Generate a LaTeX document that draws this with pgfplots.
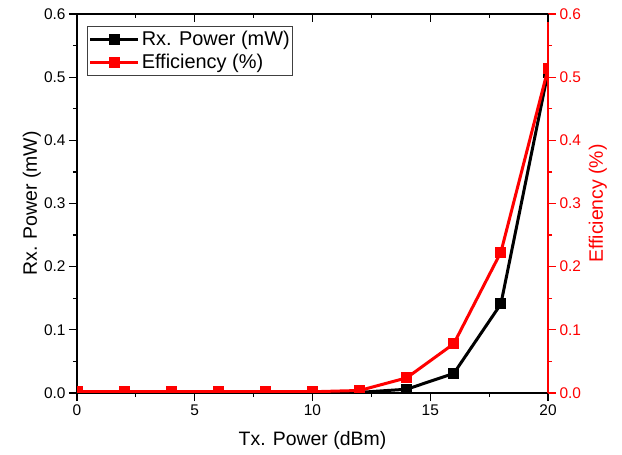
\documentclass[border=0pt]{standalone}
\usepackage{fontspec}
\setmainfont{Liberation Sans}
\usepackage{pgfplots}
\pgfplotsset{compat=1.18}
\begin{document}
\begin{tikzpicture}
\path[use as bounding box] (-77bp,-62bp) rectangle (545bp,393bp);
\pgfplotsset{
 common/.style={
  at={(0,0)}, anchor=south west, scale only axis, width=471bp, height=379bp,
  xmin=0, xmax=20, ymin=0, ymax=0.6,
  xtick={0,5,10,15,20}, ytick={0,0.1,0.2,0.3,0.4,0.5,0.6},
  minor x tick num=1, minor y tick num=1,
  major tick length=8bp, minor tick length=4bp,
  tick align=outside,
  scaled y ticks=false,
  clip marker paths=true,
  /pgf/number format/assume math mode=true,
  yticklabel style={/pgf/number format/fixed, /pgf/number format/fixed zerofill, /pgf/number format/precision=1},
  tick label style={font=\fontsize{15.5}{18}\selectfont},
  label style={font=\fontsize{19.5}{23}\selectfont},
  axis line style={line width=1.2bp},
  every tick/.style={line width=1.2bp},
 },
 ser/.style={line width=3bp, mark=square*, mark size=5bp, mark options={solid, line width=1bp}},
}
\begin{axis}[common,
  xtick pos=bottom, ytick pos=left,
  xlabel={Tx. Power (dBm)}, ylabel={Rx. Power (mW)},
  xlabel style={at={(axis description cs:0.5,-0.126)}, anchor=center},
  ylabel style={at={(axis description cs:-0.096,0.5)}, anchor=center, rotate=0},
]
\addplot[black, ser] coordinates {(0,0) (2,0) (4,0) (6,0) (8,0) (10,0) (12,0.001) (14,0.006) (16,0.031) (18,0.141) (20,0.508)};
\end{axis}
\begin{axis}[common,
  axis x line=none, axis y line*=right, ytick pos=right,
  y axis line style={red}, ytick style={red}, yticklabel style={text=red},
  ylabel={Efficiency (\%)},
  ylabel style={text=red, at={(axis description cs:1.106,0.5)}, anchor=center, rotate=0},
  legend style={at={(axis description cs:0.022,0.968)}, anchor=north west, draw=black!75, line width=0.8bp, font=\fontsize{20}{24}\selectfont, inner xsep=1bp, inner ysep=3bp, row sep=3bp, cells={anchor=west}},
  legend image code/.code={\draw[#1, mark repeat=2, mark phase=2] plot coordinates {(0bp,0bp) (24bp,0bp) (48bp,0bp)};},
]
\addlegendimage{black, ser}
\addlegendentry{Rx. Power (mW)}
\addplot[red, ser] coordinates {(0,0.002) (2,0.002) (4,0.002) (6,0.002) (8,0.002) (10,0.002) (12,0.004) (14,0.024) (16,0.078) (18,0.223) (20,0.513)};
\addlegendentry{Efficiency (\%)}
\end{axis}
\begin{axis}[common,
  hide y axis, axis x line*=top, tick align=inside, xticklabels={},
]
\end{axis}
\end{tikzpicture}
\end{document}
